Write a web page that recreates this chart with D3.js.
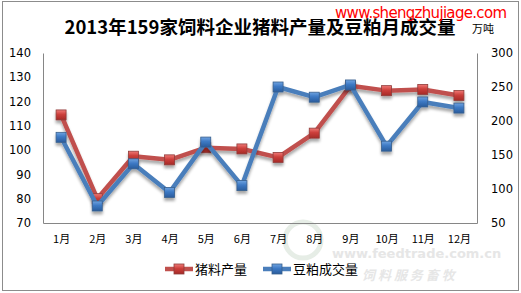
<!DOCTYPE html>
<html>
<head>
<meta charset="utf-8">
<script src="https://cdn.jsdelivr.net/npm/d3@7"></script>
<style>
  body { margin: 0; background: #fff; }
  svg { display: block; font-family: "Noto Sans CJK SC", "DejaVu Sans", sans-serif; }
</style>
</head>
<body>
<div class="chart"></div>
<script>
const months = ['1月', '2月', '3月', '4月', '5月', '6月', '7月', '8月', '9月', '10月', '11月', '12月'];
// 猪料产量 (left axis, 万吨)
const feedOutput = [114.5, 80, 97.5, 96, 101, 100.5, 97, 107, 126.5, 124.5, 125, 122.5];
// 豆粕成交量 (right axis, 万吨)
const mealVolume = [176, 75, 137, 95, 169, 105, 250, 235, 253, 163, 228, 219];
const leftTicks = [70, 80, 90, 100, 110, 120, 130, 140];
const rightTicks = [50, 100, 150, 200, 250, 300];

const W = 521, H = 293;
const plot = { left: 43, right: 477, top: 53, bottom: 223 };
const red = '#c0504d', blue = '#4a7ebb';

const svg = d3.select('.chart').append('svg')
    .attr('width', W)
    .attr('height', H);

const defs = svg.append('defs');
defs.append('filter').attr('id', 'shadow')
    .attr('x', '-20%').attr('y', '-20%').attr('width', '140%').attr('height', '160%')
    .html('<feGaussianBlur in="SourceAlpha" stdDeviation="1.5"/><feOffset dx="0" dy="3" result="b"/>' +
          '<feComponentTransfer><feFuncA type="linear" slope="0.35"/></feComponentTransfer>' +
          '<feMerge><feMergeNode/><feMergeNode in="SourceGraphic"/></feMerge>');

const grad = (id, light, mid, dark) => {
    const g = defs.append('linearGradient').attr('id', id)
        .attr('x1', 0).attr('y1', 0).attr('x2', 0).attr('y2', 1);
    g.append('stop').attr('offset', '0%').attr('stop-color', light);
    g.append('stop').attr('offset', '45%').attr('stop-color', mid);
    g.append('stop').attr('offset', '100%').attr('stop-color', dark);
};
grad('gRed', '#f07a77', '#cc3f3b', '#a52a27');
grad('gBlue', '#6fa3e0', '#3d79c4', '#2a5c9c');

// outer frame
svg.append('rect')
    .attr('x', 2.5).attr('y', 1.5)
    .attr('width', 516).attr('height', 289)
    .attr('fill', 'none').attr('stroke', '#8c8c8c').attr('stroke-width', 1);

// faint site watermark (kept clear of the labels)
const wm = svg.append('g').attr('fill', '#e6e6e6').attr('font-weight', 'bold');
wm.append('text').attr('x', 332).attr('y', 258).attr('font-size', 13).attr('font-family', 'DejaVu Sans').text('www.feedtrade.com.cn');
wm.append('text').attr('x', 362).attr('y', 280).attr('font-size', 13).attr('font-style', 'italic').text('饲 料   服 务 畜 牧');
wm.append('circle').attr('cx', 303).attr('cy', 240).attr('r', 18)
    .attr('fill', 'none').attr('stroke', '#e6ede6').attr('stroke-width', 5);

const x = d3.scalePoint()
    .domain(months)
    .range([plot.left, plot.right])
    .padding(0.5);
const yL = d3.scaleLinear().domain([70, 140]).range([plot.bottom, plot.top]);
const yR = d3.scaleLinear().domain([50, 300]).range([plot.bottom, plot.top]);

// axes
const axisStyle = g => {
    g.select('.domain').attr('stroke', '#868686');
    g.selectAll('.tick line').remove();
    g.selectAll('.tick text').attr('fill', '#000').attr('font-size', 11.5)
        .attr('font-family', '"DejaVu Sans", sans-serif');
};
svg.append('g')
    .attr('transform', `translate(${plot.left},0)`)
    .call(d3.axisLeft(yL).tickValues(leftTicks).tickSize(0).tickPadding(12).tickSizeOuter(0))
    .call(axisStyle);
svg.append('g')
    .attr('transform', `translate(${plot.right},0)`)
    .call(d3.axisRight(yR).tickValues(rightTicks).tickSize(0).tickPadding(14).tickSizeOuter(0))
    .call(axisStyle);
svg.append('g')
    .attr('transform', `translate(0,${plot.bottom})`)
    .call(d3.axisBottom(x).tickSize(0).tickPadding(12).tickSizeOuter(0))
    .call(axisStyle)
    .selectAll('.tick text').attr('font-family', '"Noto Sans CJK SC", sans-serif').attr('font-size', 11);

const drawSeries = (values, y, color, gradId) => {
    const g = svg.append('g').attr('filter', 'url(#shadow)');
    g.append('path')
        .datum(values)
        .attr('fill', 'none')
        .attr('stroke', color)
        .attr('stroke-width', 4.5)
        .attr('stroke-linejoin', 'round')
        .attr('d', d3.line().x((d, i) => x(months[i])).y(d => y(d)));
    g.selectAll('rect')
        .data(values)
        .join('rect')
        .attr('x', (d, i) => x(months[i]) - 5)
        .attr('y', d => y(d) - 5)
        .attr('width', 10).attr('height', 10)
        .attr('fill', `url(#${gradId})`)
        .attr('stroke', d3.color(color).darker(0.8))
        .attr('stroke-width', 0.8);
};
drawSeries(feedOutput, yL, red, 'gRed');
drawSeries(mealVolume, yR, blue, 'gBlue');

// title
svg.append('text')
    .attr('x', 260).attr('y', 34)
    .attr('text-anchor', 'middle')
    .attr('font-size', 18.5)
    .attr('font-weight', 'bold')
    .attr('fill', '#000')
    .text('2013年159家饲料企业猪料产量及豆粕月成交量');

svg.append('text')
    .attr('x', 472).attr('y', 33)
    .attr('font-size', 11)
    .attr('fill', '#000')
    .text('万吨');

svg.append('text')
    .attr('x', 335).attr('y', 18)
    .attr('font-size', 15)
    .attr('font-family', '"DejaVu Sans", sans-serif')
    .attr('fill', '#ff0000')
    .attr('textLength', 172)
    .text('www.shengzhujiage.com');

// legend
const legendItems = [
    { name: '猪料产量', color: red, grad: 'gRed', x: 165 },
    { name: '豆粕成交量', color: blue, grad: 'gBlue', x: 263 }
];
const lg = svg.append('g').selectAll('g').data(legendItems).join('g')
    .attr('transform', d => `translate(${d.x},269)`);
lg.append('line')
    .attr('x1', 0).attr('x2', 28)
    .attr('stroke', d => d.color).attr('stroke-width', 4.5);
lg.append('rect')
    .attr('x', 9).attr('y', -5).attr('width', 10).attr('height', 10)
    .attr('fill', d => `url(#${d.grad})`)
    .attr('stroke', d => d3.color(d.color).darker(0.8)).attr('stroke-width', 0.8);
lg.append('text')
    .attr('x', 30).attr('y', 5)
    .attr('font-size', 13)
    .attr('fill', '#000')
    .text(d => d.name);
</script>
</body>
</html>
